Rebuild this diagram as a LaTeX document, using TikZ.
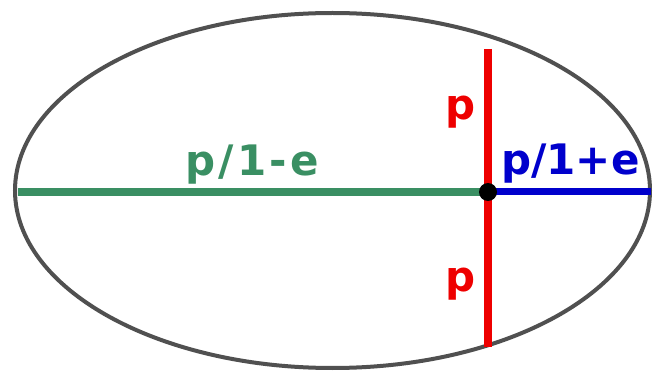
\documentclass[tikz,border=0pt]{standalone}
\usepackage{fontspec}
\setmainfont{DejaVu Sans}
\newfontfamily\widefont[LetterSpace=8]{DejaVu Sans}
\usetikzlibrary{positioning}
\definecolor{eGreen}{HTML}{3A8F63}
\definecolor{eBlue}{HTML}{0000CC}
\definecolor{eRed}{HTML}{EE0000}
\definecolor{eGray}{HTML}{505050}

\begin{document}
\begin{tikzpicture}[x=1pt, y=-1pt,
  lbl/.style={font=\fontsize{42}{42}\selectfont\bfseries, inner sep=0pt, anchor=base west},
  axis/.style={line width=8pt},
  dot/.style={circle, fill=black, inner sep=0pt, minimum size=18pt},
]
  \useasboundingbox (0,0) rectangle (654,377);
  \draw[eGray, line width=4pt] (332.5,190.5) ellipse [x radius=317.5pt, y radius=177.5pt];

  \coordinate (f) at (488,192);
  \coordinate (left) at (18,192);
  \coordinate (right) at (651,192);
  \coordinate (top) at (488,49);
  \coordinate (bottom) at (488,347);

  \draw[eGreen, axis] (left) -- (f);
  \draw[eBlue, axis, line width=7pt] (f) -- (right);
  \draw[eRed, axis] (top) -- (bottom);
  \node[dot] (focus) at (f) {};

  \node[lbl, eGreen, font=\fontsize{42}{42}\widefont\bfseries] (near) at (185,176) {p/1-e};
  \node[lbl, eBlue] (far) at (501,175) {p/1+e};
  \node[lbl, eRed] (pup) at (445,120) {p};
  \node[lbl, eRed] (pdown) at (445,291) {p};
\end{tikzpicture}
\end{document}
